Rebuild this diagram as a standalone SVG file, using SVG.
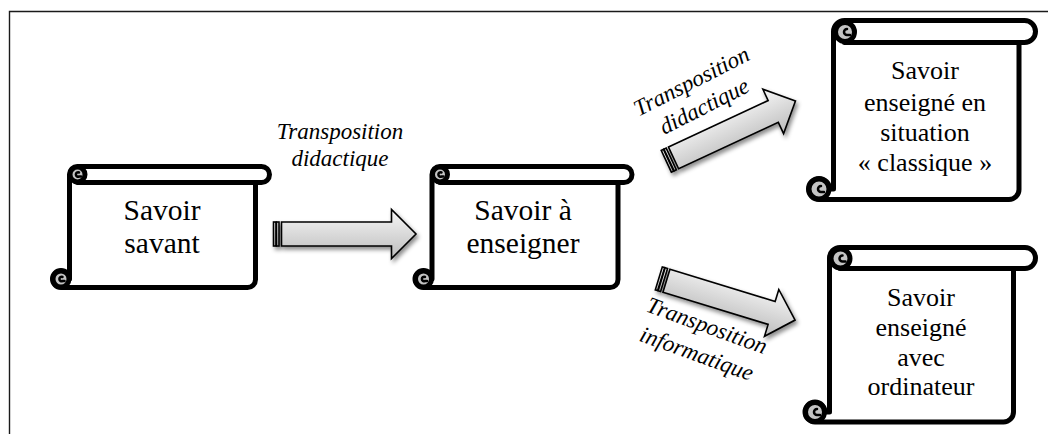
<svg xmlns="http://www.w3.org/2000/svg" width="1048" height="434" viewBox="0 0 1048 434">
<style>
.frame{fill:none;stroke:#1a1a1a;stroke-width:1.4}
.body{fill:#fff;stroke:#000;stroke-width:5;stroke-linejoin:round}
.line{fill:none;stroke:#000;stroke-width:5;stroke-linecap:round}
.curl{fill:#c4c4c4;stroke:#000;stroke-width:5}
.hook{fill:none;stroke:#000;stroke-width:2.5;stroke-linecap:round}
.t{font-family:"Liberation Serif","Times New Roman",serif;fill:#000;text-anchor:middle}
.big{font-size:29.5px}
.med{font-size:26px}
.lab{font-size:23px;font-style:italic}
.arr{fill:url(#g);stroke:#000;stroke-width:1.6;stroke-linejoin:miter}
</style>
<defs>
<linearGradient id="g" x1="0" y1="0" x2="0" y2="1">
<stop offset="0" stop-color="#f7f7f7"/>
<stop offset="1" stop-color="#bcbcbc"/>
</linearGradient>
<filter id="sh" x="-20%" y="-40%" width="140%" height="180%">
<feDropShadow dx="2" dy="3" stdDeviation="2" flood-color="#000" flood-opacity="0.45"/>
</filter>
<g id="arrow">
<rect class="arr" x="0" y="-12" width="2.5" height="24"/>
<rect class="arr" x="3" y="-12" width="2.5" height="24"/>
<path class="arr" d="M8,-12 L118,-12 L118,-24.5 L142.5,0 L118,24.5 L118,12 L8,12 Z"/>
</g>
</defs>

<path class="frame" d="M9.5,434 V11.5 H1048"/>

<g id="connectors">
<g filter="url(#sh)"><use href="#arrow" transform="translate(273.5,234)"/></g>
<g filter="url(#sh)"><use href="#arrow" transform="translate(666.3,161.3) rotate(-25)"/></g>
<g filter="url(#sh)"><use href="#arrow" transform="translate(658.8,278.4) rotate(17)"/></g>
<text class="t lab" x="340" y="139">Transposition</text>
<text class="t lab" x="340" y="166">didactique</text>
<g transform="translate(699,96) rotate(-27)">
<text class="t lab" x="0" y="-9">Transposition</text>
<text class="t lab" x="0" y="19">didactique</text>
</g>
<g transform="translate(701,342) rotate(20)">
<text class="t lab" x="0" y="-10">Transposition</text>
<text class="t lab" x="0" y="20">informatique</text>
</g>
</g>

<g id="savoir-savant">
<path class="body" d="M69.5,174.5 A8,8 0 0 1 77.5,166.5 L261.5,166.5 A8,8 0 0 1 261.5,182.5 L255.5,182.5 L255.5,279.5 A8,8 0 0 1 247.5,287.5 L61,287.5 A8.5,8.5 0 1 1 69.5,279 Z"/>
<path class="line" d="M77.5,182.5 L255.5,182.5"/>
<circle class="curl" cx="77.5" cy="174.5" r="7.5"/>
<path class="hook" d="M79,172.5 A2.2,2.2 0 1 0 79,176.5 L81,176.5"/>
<circle class="curl" cx="61" cy="279" r="8"/>
<path class="hook" d="M62.5,277 A2.2,2.2 0 1 0 62.5,281 L64.5,281"/>
<text class="t big" x="162" y="219.5">Savoir</text>
<text class="t big" x="162" y="252.5">savant</text>
</g>

<g id="savoir-a-enseigner">
<path class="body" d="M432,174.5 A8,8 0 0 1 440,166.5 L624,166.5 A8,8 0 0 1 624,182.5 L618,182.5 L618,279.5 A8,8 0 0 1 610,287.5 L423.5,287.5 A8.5,8.5 0 1 1 432,279 Z"/>
<path class="line" d="M440,182.5 L618,182.5"/>
<circle class="curl" cx="440" cy="174.5" r="7.5"/>
<path class="hook" d="M441.5,172.5 A2.2,2.2 0 1 0 441.5,176.5 L443.5,176.5"/>
<circle class="curl" cx="423.5" cy="279" r="8"/>
<path class="hook" d="M425,277 A2.2,2.2 0 1 0 425,281 L427,281"/>
<text class="t big" x="523" y="219.5">Savoir à</text>
<text class="t big" x="523" y="252.5">enseigner</text>
</g>

<g id="savoir-enseigne-classique">
<path class="body" d="M833.5,31.5 A11,11 0 0 1 844.5,20.5 L1024.5,20.5 A11,11 0 0 1 1024.5,42.5 L1019,42.5 L1019,189.5 A10,10 0 0 1 1009,199.5 L819,199.5 A10.5,10.5 0 1 1 829.5,189 L833.5,189 Z"/>
<path class="line" d="M844.5,42.5 L1019,42.5"/>
<circle class="curl" cx="845" cy="32" r="9.5"/>
<path class="hook" d="M847,29 A3,3 0 1 0 847,35 L850,35"/>
<circle class="curl" cx="819" cy="189" r="10"/>
<path class="hook" d="M821,186 A3,3 0 1 0 821,192 L824,192"/>
<text class="t med" x="925" y="79">Savoir</text>
<text class="t med" x="925" y="111">enseigné en</text>
<text class="t med" x="925" y="141">situation</text>
<text class="t med" x="925" y="170.5">« classique »</text>
</g>

<g id="savoir-enseigne-ordinateur">
<path class="body" d="M829.5,258 A10.5,10.5 0 0 1 840,247.5 L1025,247.5 A10.5,10.5 0 0 1 1025,268.5 L1013.5,268.5 L1013.5,412 A10,10 0 0 1 1003.5,422 L815,422 A10,10 0 1 1 825,412 L829.5,412 Z"/>
<path class="line" d="M840,268.5 L1013.5,268.5"/>
<circle class="curl" cx="840.5" cy="258.5" r="9.5"/>
<path class="hook" d="M842.5,255.5 A3,3 0 1 0 842.5,261.5 L845.5,261.5"/>
<circle class="curl" cx="815" cy="412" r="9.5"/>
<path class="hook" d="M817,409 A3,3 0 1 0 817,415 L820,415"/>
<text class="t med" x="921" y="306">Savoir</text>
<text class="t med" x="921" y="336">enseigné</text>
<text class="t med" x="921" y="365.5">avec</text>
<text class="t med" x="921" y="395">ordinateur</text>
</g>
</svg>
